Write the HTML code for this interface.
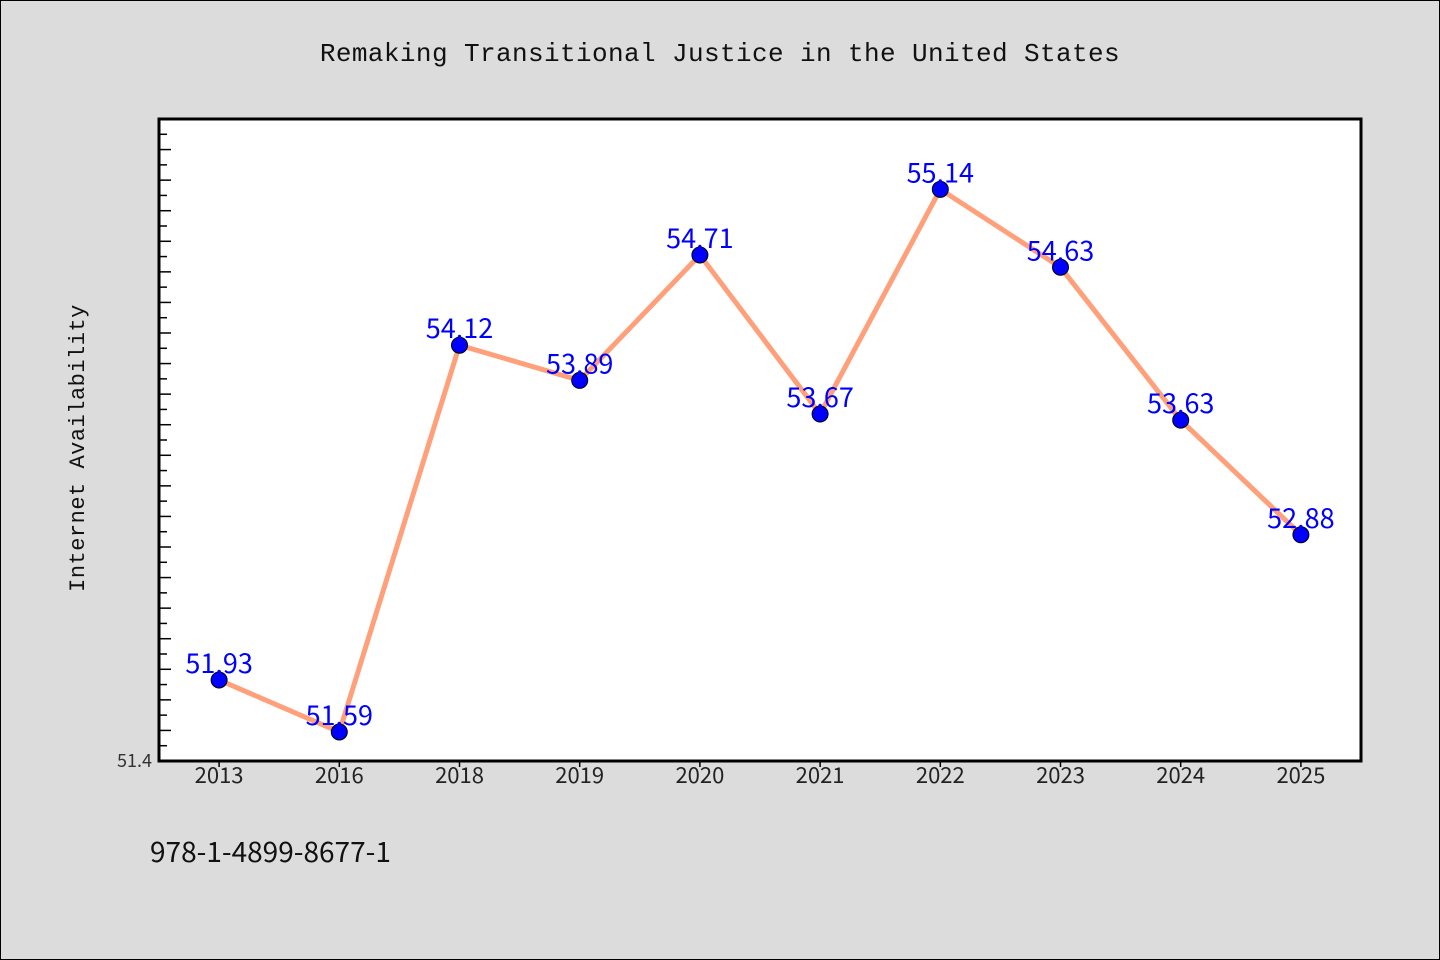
<!DOCTYPE html>
<html><head><meta charset="utf-8"><style>
body{margin:0;background:#dcdcdc;}
svg{display:block;font-family:"Liberation Sans","WenQuanYi Zen Hei",sans-serif;}
.cjk{font-family:"WenQuanYi Zen Hei","Noto Sans CJK SC",sans-serif;}
</style></head><body>
<svg id="chart" width="1440" height="960" viewBox="0 0 1440 960">
<rect x="0.5" y="0.5" width="1439" height="959" fill="#dcdcdc" stroke="#000"/>
<text x="720" y="61" text-anchor="middle" font-size="26" fill="#111" letter-spacing="0.4" font-family="Liberation Mono, monospace">Remaking Transitional Justice in the United States</text>
<rect x="159" y="119" width="1202" height="642" fill="#fff"/>
<g id="ticks"></g>
<g id="marks"></g>
<rect x="159" y="119" width="1202" height="642" fill="none" stroke="#000" stroke-width="3"/>
<text x="152" y="767" text-anchor="end" font-size="18" fill="#333" class="cjk">51.4</text>
<text transform="translate(84,448) rotate(-90)" text-anchor="middle" font-size="22" fill="#111" letter-spacing="0.5" font-family="Liberation Mono, monospace">Internet Availability</text>
<text x="150" y="862" font-size="28" fill="#111" class="cjk">978-1-4899-8677-1</text>
</svg>
<script>
const categories=["2013","2016","2018","2019","2020","2021","2022","2023","2024","2025"];
const values=[51.93,51.59,54.12,53.89,54.71,53.67,55.14,54.63,53.63,52.88];
const yMin=51.4, yMax=55.6;
const L=159,R=1361,T=119,B=761;
const NS="http://www.w3.org/2000/svg";
const bw=(R-L)/categories.length;
const x=i=>L+bw*(i+0.5);
const y=v=>B-(v-yMin)/(yMax-yMin)*(B-T);
function mk(t,a,p){const e=document.createElementNS(NS,t);for(const k in a)e.setAttribute(k,a[k]);p.appendChild(e);return e;}
const tg=document.getElementById('ticks'), mg=document.getElementById('marks');
for(let k=1;;k++){const v=yMin+k*0.1;if(v>yMax-0.05)break;const yy=y(v);
 const t=mk('line',{x1:L,x2:L+(k%2==0?12:8),y1:yy,y2:yy,stroke:'#000','stroke-width':1.5},tg);
 
 }
categories.forEach((c,i)=>{
 const t=mk('line',{x1:x(i),x2:x(i),y1:B,y2:B+6,stroke:'#000','stroke-width':1.5},tg);
 
 
 const l=mk('text',{x:x(i),y:B+22,'text-anchor':'middle','font-size':22,fill:'#222',class:'cjk'},tg);
 l.textContent=c;
 
 
});
const line=mk('polyline',{points:values.map((v,i)=>x(i)+','+y(v)).join(' '),fill:'none',stroke:'#ffa07a','stroke-width':5},mg);


values.forEach((v,i)=>{
 const c=mk('circle',{cx:x(i),cy:y(v),r:8,fill:'#0000ff',stroke:'#000','stroke-width':1},mg);
 
 
 const t=mk('text',{x:x(i),y:y(v)-7,'text-anchor':'middle','font-size':27,fill:'#0000ff',class:'cjk'},mg);
 t.textContent=v.toFixed(2);
 
 
});
</script>
</body></html>
